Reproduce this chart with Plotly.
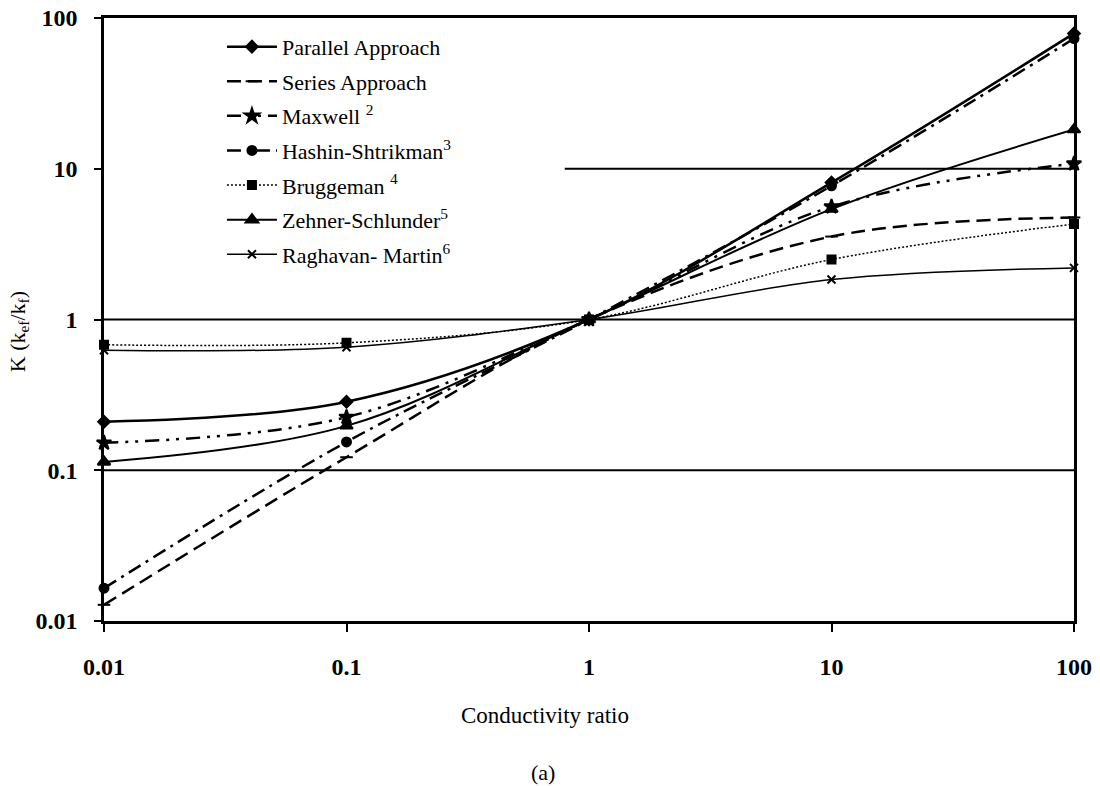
import plotly.graph_objects as go

# Conductivity ratio (x) and effective conductivity K for each model
ratio = [0.01, 0.1, 1, 10, 100]

parallel = [0.21, 0.285, 1, 8.1, 79]
series = [0.0128, 0.122, 1, 3.55, 4.75]
maxwell = [0.152, 0.225, 1, 5.6, 10.8]
hashin = [0.0165, 0.154, 1, 7.7, 73]
bruggeman = [0.68, 0.70, 1, 2.5, 4.3]
zehner = [0.1135, 0.197, 1, 5.4, 18.2]
raghavan = [0.625, 0.655, 1, 1.84, 2.2]

names = [
    "Parallel Approach",
    "Series Approach",
    "Maxwell <sup>2</sup>",
    "Hashin-Shtrikman<sup>3</sup>",
    "Bruggeman <sup>4</sup>",
    "Zehner-Schlunder<sup>5</sup>",
    "Raghavan- Martin<sup>6</sup>",
]

tick_vals = [0.01, 0.1, 1, 10, 100]
tick_text = ["0.01", "0.1", "1", "10", "100"]

series_data = [parallel, series, maxwell, hashin, bruggeman, zehner, raghavan]
styles = [
    dict(width=2.5, dash="solid", symbol="diamond", size=9),
    dict(width=2.5, dash="14px,7px", symbol="line-ew", size=9),
    dict(width=2.5, dash="14px,7px,3px,7px,3px,7px", symbol="star", size=11),
    dict(width=2.5, dash="14px,6px,3px,6px", symbol="circle", size=9),
    dict(width=1.5, dash="2px,2px", symbol="square", size=8),
    dict(width=2.0, dash="solid", symbol="triangle-up", size=11),
    dict(width=1.5, dash="solid", symbol="x-thin", size=8),
]

fig = go.Figure()
for i, (name, ys, st) in enumerate(zip(names, series_data, styles)):
    fig.add_trace(go.Scatter(
        x=ratio, y=ys, name=name, mode="lines+markers",
        legendgroup=f"g{i}",
        line=dict(color="black", width=st["width"], dash=st["dash"],
                  shape="spline", smoothing=1.0),
        marker=dict(color="black", symbol=st["symbol"], size=st["size"],
                    line=dict(color="black", width=2)),
        cliponaxis=False,
    ))

# horizontal reference lines at 0.1, 1 and 10 (the one at 10 sits right of the legend)
for yv, x0 in [(0.1, 0.0), (1, 0.0), (10, 0.475)]:
    fig.add_shape(type="line", xref="paper", yref="y", x0=x0, x1=1, y0=yv, y1=yv,
                  line=dict(color="black", width=2), layer="below")

tick_font = dict(family="Liberation Serif", size=24, color="black", weight="bold")

fig.update_xaxes(
    type="log", range=[-2, 2], tickvals=tick_vals, ticktext=tick_text,
    showgrid=False, zeroline=False, showline=True, linecolor="black", linewidth=2.5,
    mirror=True, ticks="outside", ticklen=8, tickwidth=2, tickcolor="black",
    tickfont=tick_font, ticklabelstandoff=14, automargin=False,
)
fig.update_yaxes(
    type="log", range=[-2, 2], tickvals=tick_vals, ticktext=tick_text,
    showgrid=False, zeroline=False, showline=True, linecolor="black", linewidth=2.5,
    mirror=True, ticks="outside", ticklen=7, tickwidth=2, tickcolor="black",
    tickfont=tick_font, ticklabelstandoff=12, automargin=False,
)

fig.add_annotation(text="Conductivity ratio", xref="paper", yref="paper",
                   x=0.455, y=-0.157, showarrow=False, xanchor="center", yanchor="middle",
                   font=dict(family="Liberation Serif", size=23, color="black"))
fig.add_annotation(text="(a)", xref="paper", yref="paper",
                   x=0.4526, y=-0.252, showarrow=False, xanchor="center", yanchor="middle",
                   font=dict(family="Liberation Serif", size=22, color="black"))
fig.add_annotation(text="K (k<sub>ef</sub>/k<sub>f</sub>)", xref="paper", yref="paper",
                   x=-0.0876, y=0.479, showarrow=False, textangle=-90,
                   xanchor="center", yanchor="middle",
                   font=dict(family="Liberation Serif", size=22, color="black"))

fig.update_layout(
    width=1100, height=786,
    margin=dict(l=104, r=26, t=18, b=165, autoexpand=False),
    paper_bgcolor="white", plot_bgcolor="white",
    showlegend=True,
    legend=dict(
        x=0.1216, y=0.987, xanchor="left", yanchor="top",
        bgcolor="rgba(255,255,255,0)", borderwidth=0,
        font=dict(family="Liberation Serif", size=22, color="black"),
        itemwidth=50, tracegroupgap=3, traceorder="grouped",
    ),
)

fig.write_html("out.html")
